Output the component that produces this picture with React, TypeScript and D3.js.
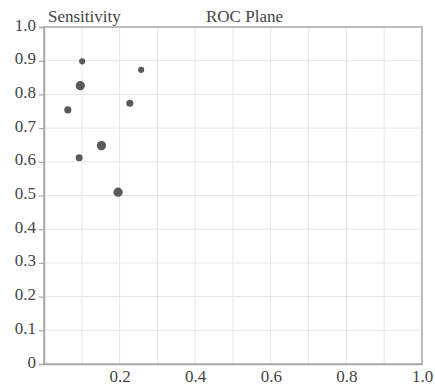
import { useEffect, useRef } from 'react'
import * as d3 from 'd3'

// ROC plane: 1 - specificity (x) vs sensitivity (y), point size = weight
const fpr = [0.101, 0.257, 0.096, 0.063, 0.227, 0.152, 0.093, 0.196]
const sens = [0.898, 0.873, 0.826, 0.754, 0.774, 0.648, 0.612, 0.510]
const weights = [1, 1, 2.2, 1.3, 1.3, 2.2, 1.3, 2.2]
const xTicks = [0.2, 0.4, 0.6, 0.8, 1.0]
const yTicks = [0, 0.1, 0.2, 0.3, 0.4, 0.5, 0.6, 0.7, 0.8, 0.9, 1.0]
const gridTicks = d3.range(1, 10).map(i => i / 10)

export default function App() {
  const svgRef = useRef<SVGSVGElement>(null)

  useEffect(() => {
    const width = 435
    const height = 385
    const margin = { top: 27, right: 13, bottom: 21, left: 44 }
    const font = 'Liberation Serif'

    const svg = d3.select(svgRef.current)
    svg.selectAll('*').remove()

    const x = d3.scaleLinear().domain([0, 1]).range([margin.left, width - margin.right])
    const y = d3.scaleLinear().domain([0, 1]).range([height - margin.bottom, margin.top])
    const r = d3.scaleSqrt().domain([0, 2.2]).range([0, 4.6])

    // grade
    svg.append('g')
      .selectAll('line')
      .data(gridTicks)
      .enter()
      .append('line')
      .attr('x1', d => x(d)).attr('x2', d => x(d))
      .attr('y1', y(0)).attr('y2', y(1))
      .attr('stroke', '#e6e6e6')
      .attr('stroke-width', 1)

    svg.append('g')
      .selectAll('line')
      .data(gridTicks)
      .enter()
      .append('line')
      .attr('x1', x(0)).attr('x2', x(1))
      .attr('y1', d => y(d)).attr('y2', d => y(d))
      .attr('stroke', '#e6e6e6')
      .attr('stroke-width', 1)

    // moldura
    svg.append('rect')
      .attr('x', x(0)).attr('y', y(1))
      .attr('width', x(1) - x(0)).attr('height', y(0) - y(1))
      .attr('fill', 'none')
      .attr('stroke', '#a8a8a8')
      .attr('stroke-width', 1.5)

    // eixo y
    const yAxis = d3.axisLeft(y)
      .tickValues(yTicks)
      .tickSize(5)
      .tickFormat(d => (+d === 0 ? '0' : d3.format('.1f')(+d)))
    const gy = svg.append('g')
      .attr('transform', `translate(${x(0)},0)`)
      .call(yAxis)
    gy.attr('font-family', font).attr('font-size', 17)
    gy.select('.domain').attr('stroke', '#a8a8a8').attr('stroke-width', 1.5)
    gy.selectAll('.tick line').attr('stroke', '#a8a8a8').attr('stroke-width', 1.2)
    gy.selectAll('.tick text')
      .attr('x', -8)
      .attr('dy', '0.18em')
      .attr('fill', '#444')

    // eixo x
    const xAxis = d3.axisBottom(x)
      .tickValues(xTicks)
      .tickSize(0)
      .tickFormat(d3.format('.1f'))
    const gx = svg.append('g')
      .attr('transform', `translate(0,${y(0)})`)
      .call(xAxis)
    gx.attr('font-family', font).attr('font-size', 17)
    gx.select('.domain').attr('stroke', '#a8a8a8').attr('stroke-width', 1.5)
    gx.selectAll('.tick text')
      .attr('y', 18)
      .attr('dy', null)
      .attr('fill', '#444')

    // pontos
    svg.append('g')
      .selectAll('circle')
      .data(fpr.map((v, i) => ({ fpr: v, sens: sens[i], w: weights[i] })))
      .enter()
      .append('circle')
      .attr('cx', d => x(d.fpr))
      .attr('cy', d => y(d.sens))
      .attr('r', d => r(d.w))
      .attr('fill', '#5a5a5a')

    // títulos
    const titles = svg.append('g').attr('font-family', font).attr('font-size', 17).attr('fill', '#444')
    titles.append('text')
      .attr('x', x(0) + 4)
      .attr('y', 22)
      .text('Sensitivity')

    titles.append('text')
      .attr('x', 206)
      .attr('y', 22)
      .text('ROC Plane')
  }, [])

  return (
    <svg
      ref={svgRef}
      width={435}
      height={385}
      style={{ position: 'fixed', top: 0, left: 0, display: 'block', background: '#fff' }}
    ></svg>
  )
}
